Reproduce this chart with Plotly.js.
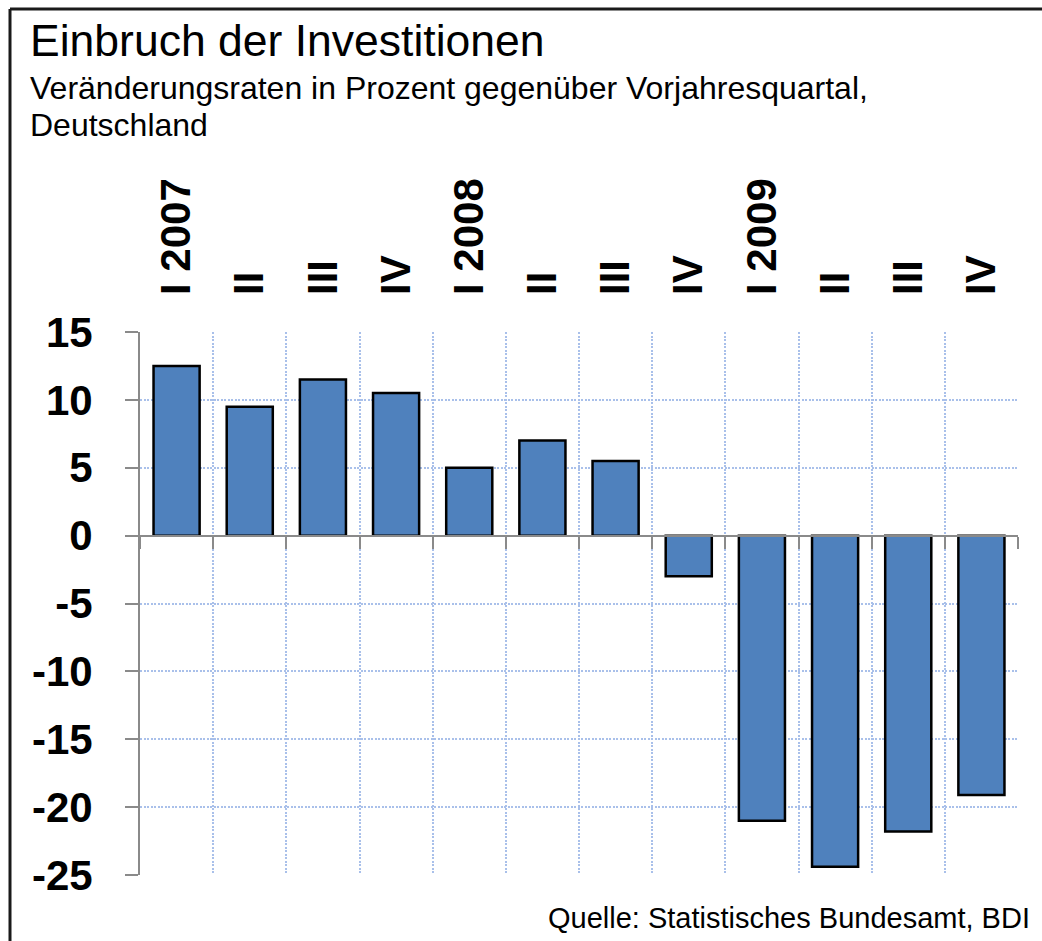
<!DOCTYPE html>
<html><head><meta charset="utf-8">
<script src="https://cdn.plot.ly/plotly-3.0.1.min.js"></script>
<style>html,body{margin:0;padding:0;background:#fff}#chart{width:1042px;height:941px}</style>
</head><body><div id="chart"></div>
<script>
// Data
const categories = ["I 2007","II 2007","III 2007","IV 2007","I 2008","II 2008","III 2008","IV 2008","I 2009","II 2009","III 2009","IV 2009"];
const tickLabels = ["I 2007","II","III","IV","I 2008","II","III","IV","I 2009","II","III","IV"];
const values = [12.5, 9.5, 11.5, 10.5, 5.0, 7.0, 5.5, -3.0, -21.0, -24.4, -21.8, -19.1];
const yTickVals = [15, 10, 5, 0, -5, -10, -15, -20, -25];
const yTickText = ["15", "10", "5", "0", "-5", "-10", "-15", "-20", "-25"];
const yMin = -25, yMax = 15;
const titleText = "Einbruch der Investitionen";
const subtitleLines = ["Veränderungsraten in Prozent gegenüber Vorjahresquartal,", "Deutschland"];
const sourceText = "Quelle: Statistisches Bundesamt, BDI";

// Layout geometry (pixels)
const W = 1042, H = 941;
const M = {l: 140, r: 24, t: 332, b: 66};
const pw = W - M.l - M.r, ph = H - M.t - M.b;
const fx = px => (px - M.l) / pw;
const fy = py => (H - M.b - py) / ph;

const FONT = '"Liberation Sans", Arial, Helvetica, sans-serif';
const gridColor = '#a9c0ea';
const gridDash = '2px,1.5px';
const axisGray = '#8a8a8a';

const traces = [
  {
    type: 'bar', x: categories, y: values,
    marker: {color: '#4f81bd', line: {color: '#000000', width: 2.5}},
    hoverinfo: 'x+y', showlegend: false
  },
  {
    type: 'scatter', mode: 'markers', x: categories, y: values, xaxis: 'x2',
    marker: {opacity: 0}, hoverinfo: 'skip', showlegend: false
  }
];

const layout = {
  width: W, height: H,
  margin: M,
  paper_bgcolor: '#ffffff', plot_bgcolor: '#ffffff',
  bargap: 0.37,
  font: {family: FONT, color: '#000000'},
  xaxis: {
    type: 'category', side: 'top',
    categoryorder: 'array', categoryarray: categories,
    tickmode: 'array', tickvals: categories, ticktext: tickLabels,
    tickson: 'boundaries', ticks: '',
    tickangle: -90,
    tickfont: {family: FONT, size: 42, weight: 'bold', color: '#000'},
    ticklabelstandoff: 36,
    showgrid: true, gridcolor: gridColor, gridwidth: 2, griddash: gridDash,
    showline: false, zeroline: false,
    range: [-0.5, categories.length - 0.5], fixedrange: true
  },
  xaxis2: {
    type: 'category', overlaying: 'x', anchor: 'free',
    position: (0 - yMin) / (yMax - yMin), side: 'bottom',
    categoryorder: 'array', categoryarray: categories,
    tickson: 'boundaries', ticks: 'outside', ticklen: 12, tickwidth: 2, tickcolor: axisGray,
    showticklabels: false, showgrid: false, zeroline: false,
    showline: true, linecolor: axisGray, linewidth: 2,
    range: [-0.5, categories.length - 0.5], fixedrange: true
  },
  yaxis: {
    range: [yMin, yMax],
    tickmode: 'array', tickvals: yTickVals, ticktext: yTickText,
    ticks: 'outside', ticklen: 13, tickwidth: 2, tickcolor: axisGray,
    showline: true, linecolor: axisGray, linewidth: 2,
    showgrid: true, gridcolor: gridColor, gridwidth: 2, griddash: gridDash,
    zeroline: false,
    tickfont: {family: FONT, size: 42, weight: 'bold', color: '#000'},
    ticklabelstandoff: 24,
    fixedrange: true
  },
  shapes: [
    {type: 'line', xref: 'paper', yref: 'paper', x0: fx(10), x1: fx(1100), y0: fy(9), y1: fy(9),
     line: {color: '#1a1a1a', width: 3}},
    {type: 'line', xref: 'paper', yref: 'paper', x0: fx(10), x1: fx(10), y0: fy(9), y1: fy(1000),
     line: {color: '#1a1a1a', width: 3}}
  ],
  annotations: [
    {xref: 'paper', yref: 'paper', x: fx(28), y: fy(41), xanchor: 'left', yanchor: 'middle',
     showarrow: false, text: titleText, font: {family: FONT, size: 44.5, color: '#000'}},
    {xref: 'paper', yref: 'paper', x: fx(28), y: fy(88), xanchor: 'left', yanchor: 'middle',
     showarrow: false, text: subtitleLines[0], font: {family: FONT, size: 32, color: '#000'}},
    {xref: 'paper', yref: 'paper', x: fx(28), y: fy(125), xanchor: 'left', yanchor: 'middle',
     showarrow: false, text: subtitleLines[1], font: {family: FONT, size: 32, color: '#000'}},
    {xref: 'paper', yref: 'paper', x: fx(1032), y: fy(918), xanchor: 'right', yanchor: 'middle',
     showarrow: false, text: sourceText, font: {family: FONT, size: 29, color: '#000'}}
  ]
};

Plotly.newPlot('chart', traces, layout, {displayModeBar: false, staticPlot: true});
</script>
</body></html>
